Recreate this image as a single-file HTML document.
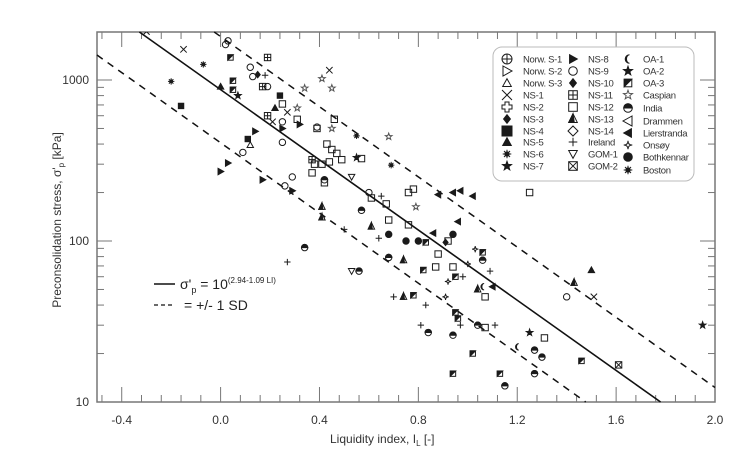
<!DOCTYPE html>
<html><head><meta charset="utf-8"><style>
html,body{margin:0;padding:0;background:#fff;overflow:hidden;width:751px;height:464px;}
svg{display:block;font-family:"Liberation Sans",Arial,sans-serif;overflow:hidden;}
</style></head><body>
<svg id="chart" width="751" height="464" viewBox="0 0 751 464" xmlns="http://www.w3.org/2000/svg">
<g id="plot"></g>
</svg>
<script>
const liValues = [-0.30,-0.15,-0.07,-0.20,-0.16,0.04,0.05,0.05,0.00,0.07,0.02,0.03,0.12,0.13,0.19,0.19,0.17,0.19,0.18,0.15,0.24,0.25,0.27,0.21,0.31,0.31,0.22,0.25,0.32,0.25,0.25,0.11,0.12,0.09,0.14,0.03,0.00,0.29,0.26,0.17,0.29,0.41,0.41,0.68,0.69,0.76,0.78,0.88,0.94,0.97,1.02,1.25,0.79,0.96,0.44,0.41,0.45,0.34,0.46,0.39,0.39,0.45,0.43,0.45,0.47,0.49,0.44,0.41,0.37,0.38,0.37,0.55,0.57,0.55,0.53,0.42,0.42,0.60,0.61,0.65,0.67,0.68,0.76,0.57,0.68,0.50,0.61,0.64,0.75,0.80,0.94,0.83,0.86,0.91,0.92,0.88,0.68,0.74,1.03,0.92,0.91,1.00,1.06,0.82,0.95,0.78,1.06,1.09,0.98,0.87,0.94,1.04,0.74,1.06,0.70,1.07,0.83,0.95,0.96,0.34,0.27,0.56,0.53,0.81,0.84,0.94,0.97,1.07,1.11,1.04,1.25,1.27,1.30,1.20,1.02,0.94,1.13,1.46,1.15,1.27,1.61,1.31,1.50,1.43,1.40,1.51,1.95,1.10];
const stressValues = [2000,1550,1250,980,690,1380,990,870,910,800,1660,1750,1200,1050,910,1380,910,600,1070,1080,800,710,630,550,670,570,670,500,530,550,410,430,395,355,480,305,270,250,220,240,205,163,140,445,296,200,210,194,200,205,190,200,163,132,1150,1020,890,890,570,500,510,500,400,370,350,320,310,300,320,300,265,330,325,450,250,240,230,200,185,190,170,135,126,155,110,118,123,104,100,100,110,98,112,98,100,83,79,76,89,56,45,72,85,66,60,46,76,65,60,69,69,50,45,52,45,45,40,36,33,91,74,65,65,30,27,26,30,29,30,30,27,21,19,22,20,15,15,18,12.6,15,17,25,66,55,45,45,30,52];
const markerTypes = ["x","x","ast","ast","fsq","oa3","oa3","oa3","ftri","fstar","circ","circ","circ","circ","circ","sqgrid","sqgrid","sqgrid","plus","fdia","fsq","sq","x","x","star","sq","ftri","rtri","rtri","circ","circ","fsq","tri","circ","rtri","rtri","rtri","circ","circ","rtri","rtri","ns13","ns13","star","ast","sq","sq","ltri","ltri","ltri","ltri","sq","star","ltri","x","star","star","star","sq","sq","circ","star","sq","sq","sq","sq","sq","sq","sqgrid","sq","sq","fstar","sq","ast","dtri","halfc","sq","circ","sq","plus","sq","sq","sq","halfc","fcirc","plus","ns13","plus","fcirc","fcirc","fcirc","oa3","ltri","fdia","sq","sq","halfc","ns13","ons","ons","ons","ons","oa3","oa3","oa3","oa3","halfc","plus","plus","sq","sq","ns13","ns13","oa1","plus","sq","plus","oa3","oa3","halfc","plus","halfc","dtri","plus","halfc","halfc","plus","sq","plus","halfc","oa2","halfc","halfc","oa1","oa3","oa3","oa3","oa3","halfc","halfc","sqx","sq","ftri","ns13","circ","x","fstar","ltri"];
const xTickValues = [-0.4,0.0,0.4,0.8,1.2,1.6,2.0];
const xTickLabels = ["-0.4","0.0","0.4","0.8","1.2","1.6","2.0"];
const yTickValues = [10,100,1000];
const yTickLabels = ["10","100","1000"];
const fitIntercept = 2.94, fitSlope = 1.09, fitSD = 0.33;
const legendNames = ["Norw. S-1","Norw. S-2","Norw. S-3","NS-1","NS-2","NS-3","NS-4","NS-5","NS-6","NS-7","NS-8","NS-9","NS-10","NS-11","NS-12","NS-13","NS-14","Ireland","GOM-1","GOM-2","OA-1","OA-2","OA-3","Caspian","India","Drammen","Lierstranda","Onsøy","Bothkennar","Boston"];
const legendMarkers = ["circplus","rtriopen","tri","xbig","plusopen","fdia","fsqbig","ftri","ast","fstar","rtri","circ","fdia","sqgrid","sq","ns13","dia","plus","dtri","sqx","oa1","oa2","oa3","star","halfc","ltriopen","ltri","ons","fcirc","ast"];

const NS="http://www.w3.org/2000/svg";
const X0=97,X1=715,Y0=32,Y1=402;
const xMin=-0.5,xMax=2.0;
const yTopLog=1+(Y1-Y0)/161;
function xs(v){return X0+(v-xMin)/(xMax-xMin)*(X1-X0);}
function ys(v){return Y1-(Math.log10(v)-1)/(yTopLog-1)*(Y1-Y0);}
const svg=document.getElementById('chart');
const plot=document.getElementById('plot');
function el(tag,attrs,parent){const e=document.createElementNS(NS,tag);for(const k in attrs)e.setAttribute(k,attrs[k]);(parent||svg).appendChild(e);return e;}
const C="#1a1a1a";
function marker(g,t,x,y,s){
  const o={stroke:C,"stroke-width":1,fill:"none"};
  const P=(d,f)=>el('path',Object.assign({},o,{d:d,fill:f||"none"}),g);
  switch(t){
    case "x":P(`M${x-s},${y-s}L${x+s},${y+s}M${x-s},${y+s}L${x+s},${y-s}`);break;
    case "xbig":P(`M${x-5},${y-5}L${x+5},${y+5}M${x-5},${y+5}L${x+5},${y-5}`);break;
    case "plus":P(`M${x-s},${y}L${x+s},${y}M${x},${y-s}L${x},${y+s}`);break;
    case "plusopen":P(`M${x-2},${y-5}h4v3h3v4h-3v3h-4v-3h-3v-4h3z`);break;
    case "circ":el('circle',Object.assign({},o,{cx:x,cy:y,r:s}),g);break;
    case "circplus":el('circle',Object.assign({},o,{cx:x,cy:y,r:5}),g);P(`M${x-5},${y}h10M${x},${y-5}v10`);break;
    case "fcirc":el('circle',{cx:x,cy:y,r:s+0.5,fill:C},g);break;
    case "sq":el('rect',Object.assign({},o,{x:x-s,y:y-s,width:2*s,height:2*s}),g);break;
    case "sqgrid":el('rect',Object.assign({},o,{x:x-s,y:y-s,width:2*s,height:2*s}),g);P(`M${x-s},${y}h${2*s}M${x},${y-s}v${2*s}`);break;
    case "sqx":el('rect',Object.assign({},o,{x:x-s,y:y-s,width:2*s,height:2*s}),g);P(`M${x-s},${y-s}L${x+s},${y+s}M${x-s},${y+s}L${x+s},${y-s}`);break;
    case "fsq":el('rect',{x:x-s,y:y-s,width:2*s,height:2*s,fill:C},g);break;
    case "fsqbig":el('rect',{x:x-5.5,y:y-5.5,width:11,height:11,fill:C},g);break;
    case "oa3":el('rect',Object.assign({},o,{x:x-s+0.5,y:y-s+0.5,width:2*s-1,height:2*s-1}),g);P(`M${x-s+0.5},${y-s+0.5}h${2*s-1}L${x-s+0.5},${y+s-0.5}z`,C);break;
    case "tri":P(`M${x},${y-s}L${x+s},${y+s*0.8}L${x-s},${y+s*0.8}z`);break;
    case "ftri":P(`M${x},${y-s}L${x+s},${y+s*0.8}L${x-s},${y+s*0.8}z`,C);break;
    case "ns13":P(`M${x},${y-s-1}L${x+s},${y+s*0.8}L${x-s},${y+s*0.8}z`);P(`M${x},${y-s-1}L${x+s*0.3},${y+s*0.8}L${x-s},${y+s*0.8}z`,C);break;
    case "dtri":P(`M${x-s},${y-s*0.8}L${x+s},${y-s*0.8}L${x},${y+s}z`);break;
    case "rtri":P(`M${x-s*0.8},${y-s}L${x+s},${y}L${x-s*0.8},${y+s}z`,C);break;
    case "rtriopen":P(`M${x-4},${y-5}L${x+5},${y}L${x-4},${y+5}z`);break;
    case "ltri":P(`M${x+s*0.8},${y-s}L${x-s},${y}L${x+s*0.8},${y+s}z`,C);break;
    case "ltriopen":P(`M${x+4},${y-5}L${x-5},${y}L${x+4},${y+5}z`);break;
    case "fdia":P(`M${x},${y-s}L${x+s*0.8},${y}L${x},${y+s}L${x-s*0.8},${y}z`,C);break;
    case "dia":P(`M${x},${y-5}L${x+5},${y}L${x},${y+5}L${x-5},${y}z`);break;
    case "ons":P(`M${x},${y-s}Q${x},${y} ${x+s},${y}Q${x},${y} ${x},${y+s}Q${x},${y} ${x-s},${y}Q${x},${y} ${x},${y-s}z`);break;
    case "halfc":el('circle',Object.assign({},o,{cx:x,cy:y,r:s}),g);P(`M${x-s},${y}A${s},${s} 0 0 1 ${x+s},${y}z`,C);break;
    case "oa1":P(`M${x+1.5},${y-s}A${s},${s} 0 1 0 ${x+1.5},${y+s}A${s*0.7},${s} 0 1 1 ${x+1.5},${y-s}z`,C);break;
    case "oa2":case "fstar":case "star":{let d="";for(let i=0;i<10;i++){const r=i%2?s*0.45:s*1.1;const a=-Math.PI/2+i*Math.PI/5;d+=(i?"L":"M")+(x+r*Math.cos(a)).toFixed(2)+","+(y+r*Math.sin(a)).toFixed(2);}P(d+"z",t==="star"?"none":C);if(t==="star")g.lastChild.setAttribute('stroke','#555');break;}
    case "ast":el('circle',{cx:x,cy:y,r:s*0.6,fill:C},g);P(`M${x-s},${y}h${2*s}M${x},${y-s}v${2*s}M${x-s*0.7},${y-s*0.7}L${x+s*0.7},${y+s*0.7}M${x-s*0.7},${y+s*0.7}L${x+s*0.7},${y-s*0.7}`);break;
  }
}
const tg=el('g',{},plot);


for(let v=-0.48;v<=2.0001;v+=0.08){
  const x=xs(v);const major=xTickValues.some(t=>Math.abs(t-v)<0.01);const L=major?15:7;
  el('line',{x1:x,y1:Y1,x2:x,y2:Y1-L,stroke:"#777","stroke-width":1},tg);
  el('line',{x1:x,y1:Y0,x2:x,y2:Y0+L,stroke:"#777","stroke-width":1},tg);
}
for(let d=1;d<=3;d++){for(let m=1;m<=9;m++){const v=m*Math.pow(10,d);const y=ys(v);if(y<Y0)continue;const L=m===1?15:7;
  el('line',{x1:X0,y1:y,x2:X0+L,y2:y,stroke:"#777","stroke-width":1},tg);
  el('line',{x1:X1,y1:y,x2:X1-L,y2:y,stroke:"#777","stroke-width":1},tg);}}
const frame=el('rect',{x:X0,y:Y0,width:X1-X0,height:Y1-Y0,fill:"none",stroke:"#777","stroke-width":1.5},plot);


xTickValues.forEach((v,i)=>{const t=el('text',{x:xs(v),y:Y1+22,"text-anchor":"middle","font-size":12,fill:"#333"},plot);t.textContent=xTickLabels[i];

});
yTickValues.forEach((v,i)=>{const t=el('text',{x:89,y:ys(v)+4,"text-anchor":"end","font-size":12,fill:"#333"},plot);t.textContent=yTickLabels[i];

});
const clip=el('clipPath',{id:'cp'},svg);el('rect',{x:X0,y:Y0,width:X1-X0,height:Y1-Y0},clip);
const logTop=yTopLog;
function fitLine(off,dash,name){
  // LI where line hits top and bottom of plot, clamped to x domain
  let a=(fitIntercept+off-logTop)/fitSlope, b=(fitIntercept+off-1)/fitSlope;
  a=Math.max(a,xMin); b=Math.min(b,xMax);
  const f=v=>Math.pow(10,fitIntercept+off-fitSlope*v);
  const l=el('line',{x1:xs(a),y1:ys(f(a)),x2:xs(b),y2:ys(f(b)),stroke:"#111","stroke-width":dash?1.5:1.6,"stroke-dasharray":dash||"none"},plot);
  
  }
fitLine(0,"","regression-line");
fitLine(fitSD,"7,6","upper-sd-line");
fitLine(-fitSD,"7,6","lower-sd-line");
const pg=el('g',{"clip-path":"url(#cp)"},plot);


liValues.forEach((v,i)=>{const g=el('g',{},pg);
  
  
  marker(g,markerTypes[i],xs(v),ys(stressValues[i]),3.2);});
el('rect',{x:723,y:405,width:28,height:30,fill:"#fff"},svg);
const xt=el('text',{x:330,y:443,"font-size":12,fill:"#333"},svg);


xt.innerHTML=`Liquidity index, I<tspan font-size="8" dy="3">L</tspan><tspan dy="-3"> [-]</tspan>`;
const yt=el('text',{x:0,y:0,"font-size":12,fill:"#333",transform:"translate(61,220) rotate(-90)","text-anchor":"middle"},svg);


yt.innerHTML=`Preconsolidation stress, σ'<tspan font-size="8" dy="3">p</tspan><tspan dy="-3"> [kPa]</tspan>`;
const ag=el('g',{},svg);


el('line',{x1:154,y1:284,x2:175,y2:284,stroke:"#111","stroke-width":1.5},ag);
const e1=el('text',{x:180,y:289,"font-size":14,fill:"#222"},ag);
e1.innerHTML=`σ'<tspan font-size="9" dy="4">p</tspan><tspan dy="-4"> = 10</tspan><tspan font-size="8" dy="-6">(2.94-1.09 LI)</tspan>`;
el('line',{x1:154,y1:305,x2:175,y2:305,stroke:"#111","stroke-width":1.3,"stroke-dasharray":"4,3"},ag);
const e2=el('text',{x:184,y:310,"font-size":14,fill:"#222"},ag);e2.textContent="=  +/- 1 SD";
const lg=el('g',{},svg);


el('rect',{x:493,y:47,width:201,height:134,rx:9,fill:"#fff",stroke:"#bbb","stroke-width":1},lg);
const colSym=[507,573,628],colLab=[523,588,643];
const rowsA=[59,71,83,95,107,119,131,142,154,166],rowsC=[59,71,83,95,108,121,133,145,157,170];
legendNames.forEach((n,i)=>{const c=Math.floor(i/10),r=i%10;const y=(c===2?rowsC:rowsA)[r];
  const g=el('g',{},lg);
  
  
  marker(g,legendMarkers[i],colSym[c],y,4.3);
  const t=el('text',{x:colLab[c],y:y+3.5,"font-size":9.5,"letter-spacing":"-0.3",fill:"#333"},g);t.textContent=n;});
</script>
</body></html>
